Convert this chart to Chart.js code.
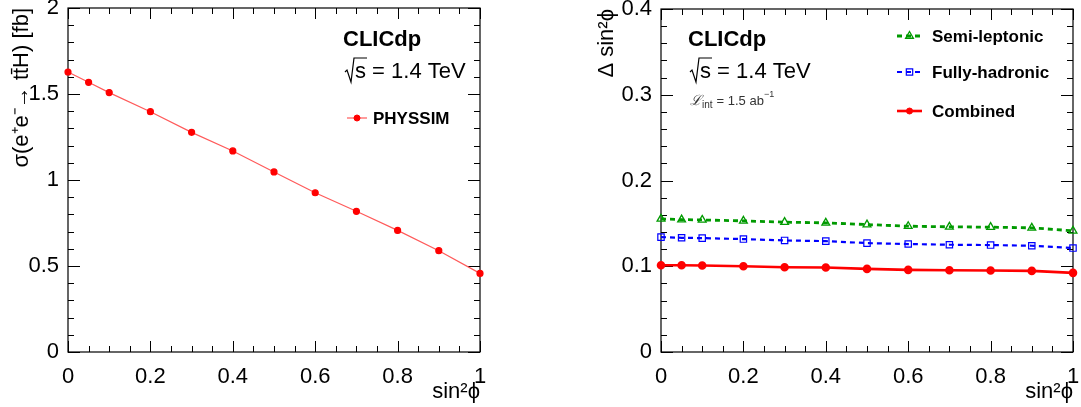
<!DOCTYPE html>
<html>
<head>
<meta charset="utf-8">
<script src="https://cdn.jsdelivr.net/npm/chart.js@4.4.0/dist/chart.umd.min.js"></script>
<style>
  body { margin: 0; background: #fff; }
  .panel { position: absolute; top: 0; height: 407px; }
</style>
</head>
<body>
<div class="panel" style="left:0;width:540px"><canvas id="xsec"></canvas></div>
<div class="panel" style="left:540px;width:541px"><canvas id="precision"></canvas></div>
<script>
var sinPhi = [0, 0.05, 0.1, 0.2, 0.3, 0.4, 0.5, 0.6, 0.7, 0.8, 0.9, 1.0];
var sigmaPhyssim = [1.628, 1.568, 1.508, 1.397, 1.277, 1.169, 1.047, 0.926, 0.818, 0.707, 0.589, 0.457];
var semiLeptonic = [0.1552, 0.1544, 0.1540, 0.1529, 0.1514, 0.1506, 0.1486, 0.1467, 0.1460, 0.1456, 0.1448, 0.1413];
var fullyHadronic = [0.1340, 0.1332, 0.1328, 0.1317, 0.1301, 0.1293, 0.1270, 0.1259, 0.1251, 0.1247, 0.1239, 0.1212];
var combined = [0.1012, 0.1012, 0.1008, 0.1000, 0.0988, 0.0985, 0.0969, 0.0958, 0.0954, 0.0950, 0.0946, 0.0923];

var FONT = '"Liberation Sans", Arial, Helvetica, sans-serif';

function pts(ys) {
    return sinPhi.map(function (x, i) { return { x: x, y: ys[i] }; });
}
function fmt(v) { return String(+Number(v).toFixed(2)); }

// ROOT style frame with inward ticks on all four sides
function drawFrame(chart, ctx) {
    var a = chart.chartArea, o = chart.options.plugins.rootFrame;
    ctx.save();
    ctx.strokeStyle = '#000';
    ctx.lineWidth = 1.2;
    ctx.strokeRect(a.left, a.top, a.right - a.left, a.bottom - a.top);
    ctx.lineWidth = 1;
    ctx.beginPath();
    var xs = chart.scales.x, ys = chart.scales.y, v, p, len;
    for (v = xs.min; v <= xs.max + 1e-9; v += o.xMinor) {
        p = Math.round(xs.getPixelForValue(v)) + 0.5;
        len = Math.abs(v / o.xMajor - Math.round(v / o.xMajor)) < 1e-6 ? 11 : 6;
        ctx.moveTo(p, a.bottom); ctx.lineTo(p, a.bottom - len);
        ctx.moveTo(p, a.top); ctx.lineTo(p, a.top + len);
    }
    for (v = ys.min; v <= ys.max + 1e-9; v += o.yMinor) {
        p = Math.round(ys.getPixelForValue(v)) + 0.5;
        len = Math.abs(v / o.yMajor - Math.round(v / o.yMajor)) < 1e-6 ? 12 : 6;
        ctx.moveTo(a.left, p); ctx.lineTo(a.left + len, p);
        ctx.moveTo(a.right, p); ctx.lineTo(a.right - len, p);
    }
    ctx.stroke();
    ctx.restore();
}

function drawSample(ctx, ds, x0, x1, y) {
    ctx.save();
    ctx.strokeStyle = ds.borderColor;
    ctx.lineWidth = ds.borderWidth;
    ctx.setLineDash(ds.borderDash || []);
    ctx.beginPath(); ctx.moveTo(x0, y); ctx.lineTo(x1, y); ctx.stroke();
    ctx.setLineDash([]);
    ctx.fillStyle = ds.pointBackgroundColor;
    ctx.strokeStyle = ds.pointBorderColor;
    ctx.lineWidth = ds.pointBorderWidth || 1;
    Chart.helpers.drawPoint(ctx, {
        pointStyle: ds.pointStyle, radius: ds.pointRadius, borderWidth: ds.pointBorderWidth || 1,
        rotation: 0
    }, (x0 + x1) / 2, y);
    ctx.restore();
}

function drawSqrtS(ctx, x, y) {
    ctx.save();
    ctx.font = '22px ' + FONT;
    ctx.fillStyle = '#000';
    ctx.textBaseline = 'middle';
    ctx.strokeStyle = '#000';
    ctx.lineWidth = 1.2;
    ctx.beginPath();
    ctx.moveTo(x, y + 1); ctx.lineTo(x + 2, y - 1); ctx.lineTo(x + 6, y + 11);
    ctx.lineTo(x + 9, y - 13); ctx.lineTo(x + 22, y - 13);
    ctx.stroke();
    ctx.fillText('s = 1.4 TeV', x + 10, y + 1);
    ctx.restore();
}

function drawLumi(ctx, x, y) {
    ctx.save();
    ctx.fillStyle = '#333';
    ctx.textBaseline = 'middle';
    ctx.font = 'italic 14px "DejaVu Serif", serif';
    ctx.fillText('\u2112', x, y);
    x += ctx.measureText('\u2112').width;
    ctx.font = '10px ' + FONT;
    ctx.fillText('int', x, y + 4);
    x += ctx.measureText('int').width + 4;
    ctx.font = '13px ' + FONT;
    ctx.fillText('= 1.5 ab', x, y);
    x += ctx.measureText('= 1.5 ab').width;
    ctx.font = '9px ' + FONT;
    ctx.fillText('\u22121', x, y - 6);
    ctx.restore();
}

var rootFramePlugin = {
    id: 'rootFrame',
    beforeDatasetsDraw: function (chart) { drawFrame(chart, chart.ctx); },
    afterDraw: function (chart) {
        var ctx = chart.ctx, o = chart.options.plugins.rootFrame;
        ctx.save();
        ctx.fillStyle = '#000';
        ctx.textBaseline = 'middle';
        ctx.font = 'bold 22px ' + FONT;
        ctx.fillText('CLICdp', o.textX, 40);
        drawSqrtS(ctx, o.textX + 2, 71);
        if (o.lumi) drawLumi(ctx, o.textX + 2, 101);
        chart.data.datasets.forEach(function (ds, i) {
            var y = o.legendY[i];
            drawSample(ctx, ds, o.legendX, o.legendX + o.legendLen, y);
            ctx.fillStyle = '#000';
            ctx.font = 'bold 17px ' + FONT;
            ctx.fillText(ds.label, o.legendX + o.legendLen + o.legendGap, y + 1);
        });
        ctx.restore();
    }
};

function baseOptions(cfg) {
    return {
        responsive: true,
        maintainAspectRatio: false,
        animation: false,
        layout: { padding: cfg.padding },
        plugins: {
            legend: { display: false },
            tooltip: { enabled: false },
            rootFrame: cfg.frame
        },
        scales: {
            x: {
                type: 'linear', min: 0, max: 1,
                grid: { display: false, drawTicks: false },
                border: { display: false },
                ticks: { stepSize: 0.2, padding: 12, color: '#000', font: { family: FONT, size: 22 }, callback: fmt, maxRotation: 0 },
                title: { display: true, text: 'sin\u00b2\u03d5', align: 'end', color: '#000', font: { family: FONT, size: 22 }, padding: { top: 0, bottom: 2 } },
                afterFit: function (s) { s.height = 55; s.paddingLeft = 0; s.paddingRight = 0; }
            },
            y: {
                min: cfg.yMin, max: cfg.yMax,
                grid: { display: false, drawTicks: false },
                border: { display: false },
                ticks: { stepSize: cfg.yStep, padding: 9, color: '#000', font: { family: FONT, size: 22 }, callback: fmt },
                title: { display: true, text: cfg.yTitle, align: 'end', color: '#000', font: { family: FONT, size: 22 }, padding: { top: 4, bottom: 0 } },
                afterFit: function (s) { s.width = cfg.yWidth; s.paddingTop = 0; s.paddingBottom = 0; }
            }
        }
    };
}

new Chart(document.getElementById('xsec'), {
    type: 'line',
    data: {
        datasets: [{
            label: 'PHYSSIM',
            data: pts(sigmaPhyssim),
            borderColor: '#ff5a5a',
            borderWidth: 1.2,
            backgroundColor: '#ff0000',
            pointBackgroundColor: '#ff0000',
            pointBorderColor: '#ff0000',
            pointStyle: 'circle',
            pointRadius: 3,
            clip: false
        }]
    },
    options: baseOptions({
        padding: { left: 5, top: 8, right: 60, bottom: 0 },
        yWidth: 63, yMin: 0, yMax: 2, yStep: 0.5,
        yTitle: '\u03c3(e\u207ae\u207b\u2192 tt\u0304H) [fb]',
        frame: { xMinor: 0.05, xMajor: 0.2, yMinor: 0.1, yMajor: 0.5, textX: 343, legendX: 347, legendLen: 20, legendGap: 6, legendY: [118] }
    }),
    plugins: [rootFramePlugin]
});

new Chart(document.getElementById('precision'), {
    type: 'line',
    data: {
        datasets: [{
            label: 'Semi-leptonic',
            data: pts(semiLeptonic),
            borderColor: '#009a00',
            borderWidth: 2.8,
            borderDash: [5, 4],
            backgroundColor: 'rgba(0,0,0,0)',
            pointBackgroundColor: 'rgba(0,0,0,0)',
            pointBorderColor: '#009a00',
            pointBorderWidth: 1.3,
            pointStyle: 'triangle',
            pointRadius: 4.5,
            clip: false
        }, {
            label: 'Fully-hadronic',
            data: pts(fullyHadronic),
            borderColor: '#0000ff',
            borderWidth: 2.2,
            borderDash: [5, 4],
            backgroundColor: 'rgba(0,0,0,0)',
            pointBackgroundColor: 'rgba(0,0,0,0)',
            pointBorderColor: '#0000ff',
            pointBorderWidth: 1.2,
            pointStyle: 'rect',
            pointRadius: 4.5,
            clip: false
        }, {
            label: 'Combined',
            data: pts(combined),
            borderColor: '#ff0000',
            borderWidth: 2.6,
            backgroundColor: '#ff0000',
            pointBackgroundColor: '#ff0000',
            pointBorderColor: '#ff0000',
            pointStyle: 'circle',
            pointRadius: 3,
            clip: false
        }]
    },
    options: baseOptions({
        padding: { left: 50, top: 9, right: 8, bottom: 0 },
        yWidth: 71, yMin: 0, yMax: 0.4, yStep: 0.1,
        yTitle: '\u0394 sin\u00b2\u03d5',
        frame: { xMinor: 0.05, xMajor: 0.2, yMinor: 0.02, yMajor: 0.1, textX: 148, lumi: true, legendX: 357, legendLen: 25, legendGap: 10, legendY: [36, 72, 111] }
    }),
    plugins: [rootFramePlugin]
});
</script>
</body>
</html>
